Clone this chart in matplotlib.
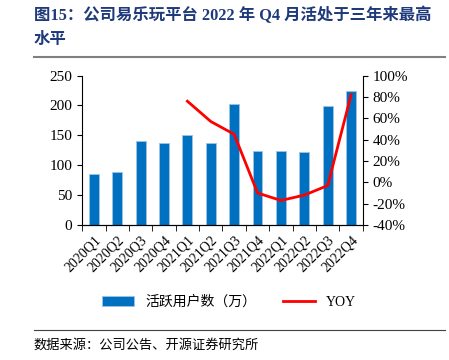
import matplotlib.pyplot as plt
from matplotlib.ticker import FuncFormatter

plt.rcParams['font.family'] = ['Liberation Serif', 'Noto Sans CJK SC']

quarters = ['2020Q1', '2020Q2', '2020Q3', '2020Q4', '2021Q1', '2021Q2',
            '2021Q3', '2021Q4', '2022Q1', '2022Q2', '2022Q3', '2022Q4']
users = [85, 88, 140, 137, 150, 138, 203, 124, 124, 122, 199, 225]
yoy_quarters = quarters[4:]
yoy = [76, 57, 45, -10, -17, -12, -3, 82]

fig = plt.figure(figsize=(4.49, 3.6), dpi=100)
ax = fig.add_axes([0.183, 0.375, 0.625, 0.415])

x = list(range(len(quarters)))
bars = ax.bar(x, users, width=0.42, color='#0070C0', edgecolor='#9DC3E6',
              linewidth=0.6, label='活跃用户数（万）')
ax.set_ylim(0, 250)
ax.set_yticks(range(0, 251, 50))
ax.set_xlim(-0.5, len(quarters) - 0.5)
ax.set_xticks(x)
ax.set_xticklabels(quarters, rotation=45, ha='right', rotation_mode='anchor',
                   fontsize=10)
ax.set_xticks([i - 0.5 for i in range(len(quarters) + 1)], minor=True)
ax.tick_params(axis='x', which='major', length=0, pad=6)
ax.tick_params(axis='x', which='minor', length=4)
ax.tick_params(axis='y', labelsize=11)
for s in ['top', 'right']:
    ax.spines[s].set_visible(False)

ax2 = ax.twinx()
xi = [quarters.index(q) for q in yoy_quarters]
line, = ax2.plot(xi, yoy, color='#FF0000', lw=2, label='YOY')
ax2.set_ylim(-40, 100)
ax2.set_yticks(range(-40, 101, 20))
ax2.yaxis.set_major_formatter(FuncFormatter(lambda v, p: f'{v:.0f}%'))
ax2.tick_params(axis='y', labelsize=11)
for s in ['top', 'left']:
    ax2.spines[s].set_visible(False)

fig.legend(handles=[bars, line], labels=['活跃用户数（万）', 'YOY'],
           loc='center', bbox_to_anchor=(0.51, 0.16), ncol=2, frameon=False,
           fontsize=10, handlelength=2.3, columnspacing=1.9)

fig.text(0.075, 0.957, '图15：公司易乐玩平台 2022 年 Q4 月活处于三年来最高',
         fontsize=11.8, fontweight='bold', color='#1F3A7A', va='center')
fig.text(0.075, 0.889, '水平', fontsize=11.8, fontweight='bold',
         color='#1F3A7A', va='center')
fig.add_artist(plt.Line2D([0.075, 0.99], [0.842, 0.842], color='#808080', lw=1.5))
fig.add_artist(plt.Line2D([0.075, 0.99], [0.083, 0.083], color='#404040', lw=0.8))
fig.text(0.075, 0.04, '数据来源：公司公告、开源证券研究所', fontsize=9.5,
         va='center')

fig.savefig('out.png', dpi=100)
